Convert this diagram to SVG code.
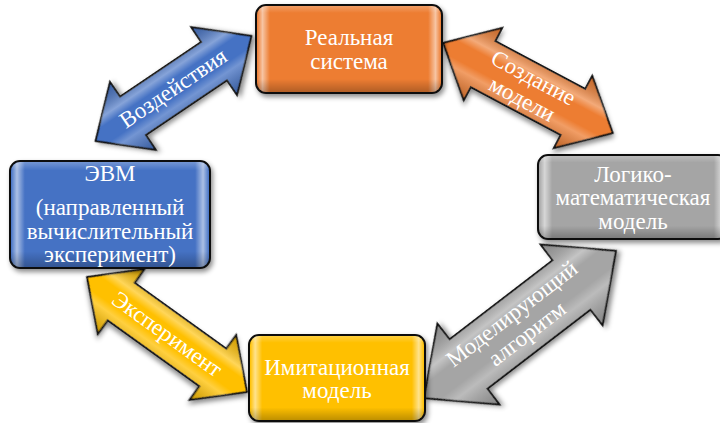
<svg xmlns="http://www.w3.org/2000/svg" width="720" height="423" viewBox="0 0 720 423">
<defs>
<filter id="sh" x="-20%" y="-20%" width="140%" height="140%">
<feDropShadow dx="2" dy="3" stdDeviation="2.5" flood-color="#000" flood-opacity="0.45"/>
</filter>
<linearGradient id="bevH" x1="0" y1="0" x2="1" y2="0">
<stop offset="0" stop-color="#fff" stop-opacity="0"/>
<stop offset="0.03" stop-color="#fff" stop-opacity="0.55"/>
<stop offset="0.07" stop-color="#fff" stop-opacity="0"/>
<stop offset="0.93" stop-color="#fff" stop-opacity="0"/>
<stop offset="0.97" stop-color="#fff" stop-opacity="0.55"/>
<stop offset="1" stop-color="#fff" stop-opacity="0"/>
</linearGradient>
<linearGradient id="bevV" x1="0" y1="0" x2="0" y2="1">
<stop offset="0" stop-color="#fff" stop-opacity="0.25"/>
<stop offset="0.08" stop-color="#fff" stop-opacity="0"/>
<stop offset="0.85" stop-color="#000" stop-opacity="0"/>
<stop offset="1" stop-color="#000" stop-opacity="0.25"/>
</linearGradient>
<linearGradient id="bevA" x1="0" y1="0" x2="0" y2="1">
<stop offset="0" stop-color="#000" stop-opacity="0.15"/>
<stop offset="0.3" stop-color="#fff" stop-opacity="0.35"/>
<stop offset="0.4" stop-color="#fff" stop-opacity="0"/>
<stop offset="0.6" stop-color="#fff" stop-opacity="0"/>
<stop offset="0.7" stop-color="#fff" stop-opacity="0.25"/>
<stop offset="1" stop-color="#000" stop-opacity="0.2"/>
</linearGradient>
<style>
.box{stroke:#111;stroke-width:2}
.arr{stroke:#111;stroke-width:1.8;stroke-linejoin:miter}
.t{font-family:"Liberation Serif","Times New Roman",serif;font-size:23px;fill:#fff;text-anchor:middle}
</style>
</defs>

<g id="connectors">
<g id="arrow-vozdeystviya" transform="translate(173.5,88.5) rotate(-34)">
<path class="arr" filter="url(#sh)" fill="#4472C4" d="M-94,0 L-49,-41 L-49,-23 L49,-23 L49,-41 L94,0 L49,41 L49,23 L-49,23 L-49,41 Z"/>
<path fill="url(#bevA)" d="M-94,0 L-49,-41 L-49,-23 L49,-23 L49,-41 L94,0 L49,41 L49,23 L-49,23 L-49,41 Z"/>
<text class="t" x="0" y="7">Воздействия</text>
</g>
<g id="arrow-sozdanie" transform="translate(528,88) rotate(28)">
<path class="arr" filter="url(#sh)" fill="#ED7D31" d="M-96,0 L-51,-41 L-51,-26 L51,-26 L51,-41 L96,0 L51,41 L51,26 L-51,26 L-51,41 Z"/>
<path fill="url(#bevA)" d="M-96,0 L-51,-41 L-51,-26 L51,-26 L51,-41 L96,0 L51,41 L51,26 L-51,26 L-51,41 Z"/>
<text class="t" x="0" y="-4">Создание</text>
<text class="t" x="0" y="20">модели</text>
</g>
<g id="arrow-eksperiment" transform="translate(167,334.5) rotate(35.7)">
<path class="arr" filter="url(#sh)" fill="#FFC000" d="M-98.5,0 L-56.5,-40 L-56.5,-23 L56.5,-23 L56.5,-40 L98.5,0 L56.5,40 L56.5,23 L-56.5,23 L-56.5,40 Z"/>
<path fill="url(#bevA)" d="M-98.5,0 L-56.5,-40 L-56.5,-23 L56.5,-23 L56.5,-40 L98.5,0 L56.5,40 L56.5,23 L-56.5,23 L-56.5,40 Z"/>
<text class="t" x="0" y="7">Эксперимент</text>
</g>
<g id="arrow-algoritm" transform="translate(520,324.5) rotate(-37.5)">
<path class="arr" filter="url(#sh)" fill="#A5A5A5" d="M-121,0 L-65,-51 L-65,-31 L65,-31 L65,-51 L121,0 L65,51 L65,31 L-65,31 L-65,51 Z"/>
<path fill="url(#bevA)" d="M-121,0 L-65,-51 L-65,-31 L65,-31 L65,-51 L121,0 L65,51 L65,31 L-65,31 L-65,51 Z"/>
<text class="t" x="0" y="-6">Моделирующий</text>
<text class="t" x="0" y="19">алгоритм</text>
</g>
</g>

<g id="node-realnaya">
<rect class="box" filter="url(#sh)" x="256" y="5" width="186" height="88" rx="10" fill="#ED7D31"/>
<rect x="257" y="6" width="184" height="86" rx="9" fill="url(#bevH)"/>
<rect x="257" y="6" width="184" height="86" rx="9" fill="url(#bevV)"/>
<text class="t" x="349" y="45">Реальная</text>
<text class="t" x="349" y="69">система</text>
</g>

<g id="node-evm">
<rect class="box" filter="url(#sh)" x="10" y="161" width="200" height="107" rx="10" fill="#4472C4"/>
<rect x="11" y="162" width="198" height="105" rx="9" fill="url(#bevH)"/>
<rect x="11" y="162" width="198" height="105" rx="9" fill="url(#bevV)"/>
<text class="t" x="110" y="181">ЭВМ</text>
<text class="t" x="110" y="215">(направленный</text>
<text class="t" x="110" y="239">вычислительный</text>
<text class="t" x="110" y="262">эксперимент)</text>
</g>

<g id="node-logiko">
<rect class="box" filter="url(#sh)" x="538" y="155" width="190" height="84" rx="10" fill="#A5A5A5"/>
<rect x="539" y="156" width="188" height="82" rx="9" fill="url(#bevH)"/>
<rect x="539" y="156" width="188" height="82" rx="9" fill="url(#bevV)"/>
<text class="t" x="633" y="182">Логико-</text>
<text class="t" x="633" y="205">математическая</text>
<text class="t" x="633" y="229">модель</text>
</g>

<g id="node-imitatsionnaya">
<rect class="box" filter="url(#sh)" x="249" y="335" width="176" height="86" rx="10" fill="#FFC000"/>
<rect x="250" y="336" width="174" height="84" rx="9" fill="url(#bevH)"/>
<rect x="250" y="336" width="174" height="84" rx="9" fill="url(#bevV)"/>
<text class="t" x="337" y="375">Имитационная</text>
<text class="t" x="337" y="398">модель</text>
</g>
</svg>
